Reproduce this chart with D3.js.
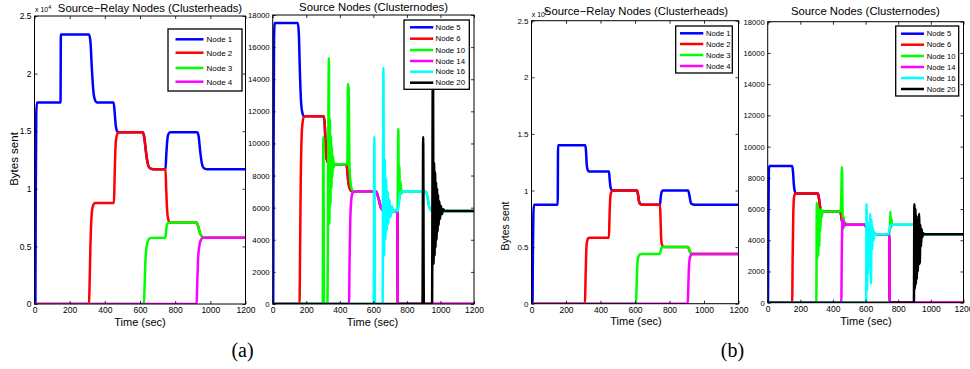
<!DOCTYPE html>
<html><head><meta charset="utf-8">
<script src="https://cdn.jsdelivr.net/npm/d3@7"></script>
<style>
body{margin:0;background:#fff}
svg{display:block}
text{fill:#000}
</style>
</head><body>
<svg id="c" width="970" height="369" font-family="Liberation Sans, Arial, Helvetica, sans-serif"></svg>
<script>
// ---------- data ----------
const timeTicks = [0, 200, 400, 600, 800, 1000, 1200];
const headTicks = [0, 5000, 10000, 15000, 20000, 25000];
const headTickLabels = ["0", "0.5", "1", "1.5", "2", "2.5"];
const nodeTicks = [0, 2000, 4000, 6000, 8000, 10000, 12000, 14000, 16000, 18000];
const headNames = ["Node 1", "Node 2", "Node 3", "Node 4"];
const nodeNames = ["Node 5", "Node 6", "Node 10", "Node 14", "Node 16", "Node 20"];
const headColors = ["#0000ff", "#ff0000", "#00ff00", "#ff00ff"];
const nodeColors = ["#0000ff", "#ff0000", "#00ff00", "#ff00ff", "#00ffff", "#000000"];
const titleHeads = "Source\u2212Relay Nodes (Clusterheads)";
const titleNodes = "Source Nodes (Clusternodes)";

// (a) clusterheads  [time s, bytes]
const aNode1 = [[0,0],[5,0],[7,9000],[10,16500],[14,17500],[148,17500],[150,23400],[310,23400],[318,22800],[326,20500],[334,18600],[342,17800],[355,17500],[450,17500],[456,16600],[462,15500],[470,15000],[480,14900],[615,14900],[624,14500],[634,13200],[644,12200],[655,11800],[675,11700],[745,11700],[749,12800],[754,14000],[760,14700],[772,14900],[925,14900],[933,14600],[942,13300],[952,12200],[962,11800],[980,11700],[1200,11700]];
const aNode2 = [[0,0],[310,0],[313,1500],[318,5000],[324,7500],[332,8500],[345,8760],[452,8760],[455,10500],[459,13000],[465,14400],[472,14800],[482,14900],[615,14900],[624,14500],[634,13200],[644,12200],[655,11800],[675,11700],[745,11700],[749,10000],[754,8200],[760,7400],[768,7100],[780,7070],[922,7070],[930,6800],[940,6200],[950,5900],[962,5780],[980,5760],[1200,5760]];
const aNode3 = [[0,0],[622,0],[626,1500],[631,3800],[638,5000],[647,5550],[660,5740],[745,5760],[748,6300],[752,6800],[758,7000],[770,7070],[922,7070],[930,6800],[940,6200],[950,5900],[962,5780],[980,5760],[1200,5760]];
const aNode4 = [[0,0],[922,0],[925,1500],[930,3800],[937,5000],[946,5550],[958,5740],[975,5760],[1200,5760]];

// (a) clusternodes
const aNode5 = [[0,0],[3,0],[5,9000],[8,16500],[12,17500],[150,17500],[156,16800],[162,14500],[168,12800],[175,12000],[185,11700],[305,11700],[310,11200],[315,10000],[320,9200],[327,8850],[338,8700],[440,8700],[445,8300],[450,7700],[456,7300],[465,7080],[480,7000],[615,7000],[625,6800],[635,6400],[645,6000],[655,5850],[665,5800],[743,5800],[746,0],[1200,0]];
const aNode6 = [[0,0],[160,0],[163,3000],[167,7500],[172,10300],[178,11300],[188,11700],[305,11700],[310,11200],[315,10000],[320,9200],[327,8850],[338,8700],[440,8700],[445,8300],[450,7700],[456,7300],[465,7080],[480,7000],[615,7000],[625,6800],[635,6400],[645,6000],[655,5850],[665,5800],[743,5800],[746,0],[1200,0]];
const aNode10 = [[0,0],[298,0],[302,10400],[306,0],[326,0],[335,15300],[338,5000],[341,11500],[344,6200],[347,10500],[350,7200],[353,9800],[356,7900],[360,9200],[364,8500],[370,8750],[380,8700],[445,8700],[449,13700],[451,9500],[453,13500],[457,8900],[462,7800],[470,7200],[485,7000],[615,7000],[625,6800],[635,6400],[645,6000],[655,5850],[665,5800],[744,5800],[749,10900],[752,6200],[755,8600],[758,6600],[762,7600],[767,6900],[775,7050],[785,7000],[912,7000],[922,6700],[932,6100],[942,5850],[955,5800],[1200,5800]];
const aNode14 = [[0,0],[455,0],[458,2500],[462,5000],[467,6300],[474,6850],[485,7000],[615,7000],[625,6800],[635,6400],[645,6000],[655,5850],[665,5800],[743,5800],[746,0],[1200,0]];
const aNode16 = [[0,0],[602,0],[606,10400],[610,0],[655,0],[660,14700],[664,3000],[668,9000],[672,4000],[676,7800],[680,4600],[685,7000],[690,5000],[696,6500],[702,5400],[710,6100],[718,5700],[728,5850],[745,5800],[752,6200],[758,6800],[766,7000],[912,7000],[922,6700],[932,6100],[942,5850],[955,5800],[1200,5800]];
const aNode20 = [[0,0],[893,0],[897,10400],[901,0],[950,0],[955,16500],[959,2500],[962,8800],[965,3000],[968,8200],[971,3500],[974,7600],[977,4000],[980,7200],[983,4500],[986,6800],[990,4900],[994,6400],[998,5300],[1003,6100],[1009,5600],[1016,5900],[1025,5800],[1200,5800]];

// (b) clusterheads
const bNode1 = [[0,0],[6,0],[8,4500],[11,8000],[15,8750],[152,8750],[154,14000],[312,14000],[316,13500],[320,12300],[326,11800],[335,11670],[449,11670],[453,11000],[458,10300],[465,10050],[475,10000],[612,10000],[618,9600],[624,9000],[632,8800],[645,8750],[745,8750],[749,9400],[754,9850],[762,10000],[908,10000],[915,9600],[922,9000],[930,8800],[945,8750],[1200,8750]];
const bNode2 = [[0,0],[310,0],[313,2000],[317,4500],[322,5500],[330,5800],[342,5830],[449,5830],[452,7500],[456,9200],[461,9800],[470,10000],[612,10000],[618,9600],[624,9000],[632,8800],[645,8750],[745,8750],[748,7500],[751,6000],[755,5300],[762,5050],[775,5000],[908,5000],[915,4750],[922,4500],[930,4420],[945,4400],[1200,4400]];
const bNode3 = [[0,0],[606,0],[609,1500],[613,3300],[619,4100],[628,4350],[640,4400],[745,4400],[749,4700],[754,4930],[762,5000],[908,5000],[915,4750],[922,4500],[930,4420],[945,4400],[1200,4400]];
const bNode4 = [[0,0],[906,0],[909,1500],[913,3300],[919,4100],[928,4350],[940,4400],[1200,4400]];

// (b) clusternodes
const bNode5 = [[0,0],[2,0],[4,5000],[7,8500],[11,8750],[150,8750],[155,8400],[160,7600],[166,7150],[175,7000],[308,7000],[314,6700],[320,6200],[327,5900],[337,5850],[445,5850],[450,5600],[455,5250],[461,5050],[470,5000],[596,5000],[606,4750],[616,4500],[628,4400],[640,4380],[745,4380],[748,0],[1200,0]];
const bNode6 = [[0,0],[150,0],[153,3000],[157,5800],[162,6800],[170,7000],[308,7000],[314,6700],[320,6200],[327,5900],[337,5850],[445,5850],[450,5600],[455,5250],[461,5050],[470,5000],[596,5000],[606,4750],[616,4500],[628,4400],[640,4380],[745,4380],[748,0],[1200,0]];
const bNode10 = [[0,0],[298,0],[301,6400],[304,2800],[307,6200],[310,3000],[313,6000],[316,3600],[319,5900],[323,4600],[327,6000],[332,5500],[337,5900],[345,5850],[447,5850],[451,6800],[455,8700],[458,6300],[461,4700],[465,5500],[470,4850],[476,5100],[485,5000],[596,5000],[606,4750],[616,4500],[628,4400],[640,4380],[748,4380],[752,5850],[755,4800],[758,5400],[762,4950],[770,5000],[910,5000],[920,4800],[930,4500],[943,4380],[1200,4380]];
const bNode14 = [[0,0],[451,0],[454,3000],[458,5400],[462,4800],[467,5200],[474,5000],[596,5000],[606,4750],[616,4500],[628,4400],[640,4380],[745,4380],[748,0],[1200,0]];
const bNode16 = [[0,0],[603,0],[606,6300],[609,800],[612,5200],[615,1800],[619,4800],[624,2600],[629,5700],[633,1200],[637,5300],[641,3400],[645,4800],[650,4000],[655,4500],[662,4350],[672,4380],[738,4380],[745,4600],[752,4950],[760,5000],[910,5000],[920,4800],[930,4500],[943,4380],[1200,4380]];
const bNode20 = [[0,0],[896,0],[899,6300],[902,900],[905,6000],[908,1200],[911,5600],[914,1500],[917,5300],[920,2000],[924,4900],[928,5700],[932,2500],[936,5000],[940,3600],[944,4700],[948,4200],[953,4450],[960,4380],[1200,4380]];

// ---------- drawing ----------
const svg = d3.select("#c");
const SANS = "Liberation Sans, Arial, Helvetica, sans-serif";

function panel(o) {
  const x = d3.scaleLinear().domain([0, 1200]).range([o.l, o.r]);
  const y = d3.scaleLinear().domain([0, o.yMax]).range([o.b, o.t]);
  const g = svg.append("g");
  const clipId = "clip" + o.id;
  svg.append("clipPath").attr("id", clipId).append("rect")
    .attr("x", o.l).attr("y", o.t).attr("width", o.r - o.l).attr("height", o.b - o.t);

  const line = d3.line().x(d => x(d[0])).y(d => y(d[1])).curve(d3.curveMonotoneX);
  const lg = g.append("g").attr("clip-path", `url(#${clipId})`);
  o.series.forEach((s, i) => {
    lg.append("path").attr("d", line(s)).attr("fill", "none")
      .attr("stroke", o.colors[i]).attr("stroke-width", 2.5)
      .attr("stroke-linejoin", "round").attr("stroke-linecap", "butt");
  });

  // axes with inward ticks
  const ax = d3.axisBottom(x).tickValues(timeTicks).tickSize(-3).tickFormat(d3.format("d"));
  const axg = g.append("g").attr("transform", `translate(0,${o.b})`).call(ax);
  axg.selectAll("text").attr("font-size", 8.5).attr("dy", "0.71em").attr("y", 3.3);
  g.append("g").attr("transform", `translate(0,${o.t})`)
    .call(d3.axisTop(x).tickValues(timeTicks).tickSize(-3).tickFormat(""));
  const ay = d3.axisLeft(y).tickValues(o.yTicks).tickSize(-3).tickPadding(3)
    .tickFormat((d, i) => o.yLabels ? o.yLabels[i] : d);
  const ayg = g.append("g").attr("transform", `translate(${o.l},0)`).call(ay);
  ayg.selectAll("text").attr("font-size", o.yFont);
  g.append("g").attr("transform", `translate(${o.r},0)`)
    .call(d3.axisRight(y).tickValues(o.yTicks).tickSize(-3).tickFormat(""));
  g.selectAll(".domain").remove();
  g.selectAll(".tick line").attr("stroke", "#000").attr("stroke-width", 0.8);
  g.selectAll("g").attr("font-family", SANS);
  g.selectAll(".tick text").attr("fill", "#000");

  g.append("rect").attr("x", o.l).attr("y", o.t).attr("width", o.r - o.l).attr("height", o.b - o.t)
    .attr("fill", "none").attr("stroke", "#000").attr("stroke-width", 1);

  // legend
  const L = o.leg;
  g.append("rect").attr("x", L.x0).attr("y", L.y0).attr("width", L.x1 - L.x0).attr("height", L.y1 - L.y0)
    .attr("fill", "#fff").attr("stroke", "#000").attr("stroke-width", 1.3);
  o.names.forEach((n, i) => {
    const yy = L.ys[i];
    g.append("line").attr("x1", L.lx0).attr("x2", L.lx1).attr("y1", yy).attr("y2", yy)
      .attr("stroke", o.colors[i]).attr("stroke-width", 2.5);
    g.append("text").attr("x", L.tx).attr("y", yy).attr("dy", "0.35em")
      .attr("font-size", L.fs).text(n);
  });

  // title
  g.append("text").attr("x", o.titleX).attr("y", o.titleY).attr("text-anchor", "middle")
    .attr("font-size", 11.3).text(o.title);
  // xlabel
  g.append("text").attr("x", o.xlabX).attr("y", o.xlabY).attr("text-anchor", "middle")
    .attr("font-size", 11).text("Time (sec)");
  if (o.ylab) {
    g.append("text").attr("transform", `translate(${o.ylab.x},${o.ylab.y}) rotate(-90)`)
      .attr("text-anchor", "middle").attr("font-size", o.ylab.fs).text("Bytes sent");
  }
  if (o.exp) {
    const t = g.append("text").attr("x", o.exp.x).attr("y", o.exp.y).attr("font-size", 7);
    t.append("tspan").text("x 10");
    t.append("tspan").attr("dy", -3.5).attr("font-size", 5.5).text("4");
  }
}

panel({id: 1, l: 34.5, r: 245.5, t: 16, b: 304, yMax: 25000, yTicks: headTicks, yLabels: headTickLabels, yFont: 8.5,
  series: [aNode1, aNode2, aNode3, aNode4], colors: headColors, names: headNames,
  leg: {x0: 168, x1: 242, y0: 29, y1: 91, ys: [39.3, 52.7, 68, 81.7], lx0: 175.5, lx1: 203.5, tx: 206.5, fs: 8},
  title: titleHeads, titleX: 150, titleY: 11.5, xlabX: 140, xlabY: 326,
  ylab: {x: 17.5, y: 159, fs: 11.5}, exp: {x: 35, y: 12}});

panel({id: 2, l: 272.7, r: 474, t: 15, b: 304, yMax: 18000, yTicks: nodeTicks, yLabels: null, yFont: 7.8,
  series: [aNode5, aNode6, aNode10, aNode14, aNode16, aNode20], colors: nodeColors, names: nodeNames,
  leg: {x0: 404, x1: 469.3, y0: 20, y1: 89.3, ys: [27.3, 38.7, 50, 61, 71.7, 82.7], lx0: 410, lx1: 433.3, tx: 435.5, fs: 7.8},
  title: titleNodes, titleX: 373.5, titleY: 11, xlabX: 372.5, xlabY: 326});

panel({id: 3, l: 531.5, r: 738.5, t: 20.7, b: 303.7, yMax: 25000, yTicks: headTicks, yLabels: headTickLabels, yFont: 8,
  series: [bNode1, bNode2, bNode3, bNode4], colors: headColors, names: headNames,
  leg: {x0: 675.7, x1: 732.3, y0: 26, y1: 73, ys: [33.3, 44, 55, 66], lx0: 680, lx1: 703.3, tx: 706, fs: 7.6},
  title: titleHeads, titleX: 636, titleY: 15, xlabX: 636, xlabY: 325,
  ylab: {x: 509, y: 226, fs: 10.5}, exp: {x: 531.7, y: 16.5}});

panel({id: 4, l: 767.7, r: 963.5, t: 21.7, b: 302.7, yMax: 18000, yTicks: nodeTicks, yLabels: null, yFont: 7.6,
  series: [bNode5, bNode6, bNode10, bNode14, bNode16, bNode20], colors: nodeColors, names: nodeNames,
  leg: {x0: 895.7, x1: 958.7, y0: 26, y1: 96, ys: [33.7, 44.7, 56, 67, 78, 89], lx0: 901, lx1: 924, tx: 926.7, fs: 7.6},
  title: titleNodes, titleX: 865.3, titleY: 14.7, xlabX: 866, xlabY: 325});

// sub-figure labels
svg.append("text").attr("x", 242.5).attr("y", 357).attr("text-anchor", "middle")
  .attr("font-family", "Liberation Serif, Times New Roman, serif").attr("font-size", 20).text("(a)");
svg.append("text").attr("x", 732.5).attr("y", 357).attr("text-anchor", "middle")
  .attr("font-family", "Liberation Serif, Times New Roman, serif").attr("font-size", 20).text("(b)");
</script>
</body></html>
